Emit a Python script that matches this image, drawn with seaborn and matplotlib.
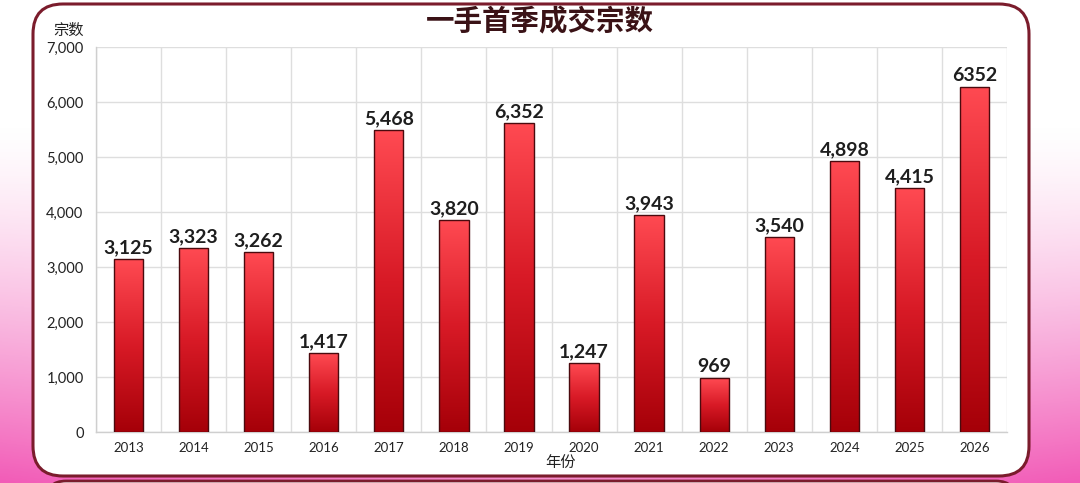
import numpy as np
import pandas as pd
import seaborn as sns
import matplotlib.pyplot as plt
from matplotlib.colors import LinearSegmentedColormap
from matplotlib.patches import FancyBboxPatch
from matplotlib.ticker import FuncFormatter

# data
years = ['2013', '2014', '2015', '2016', '2017', '2018', '2019',
         '2020', '2021', '2022', '2023', '2024', '2025', '2026']
bar_heights = [3140, 3340, 3270, 1430, 5490, 3860, 5610,
               1250, 3940, 980, 3545, 4920, 4430, 6280]
value_labels = ['3,125', '3,323', '3,262', '1,417', '5,468', '3,820', '6,352',
                '1,247', '3,943', '969', '3,540', '4,898', '4,415', '6352']
title = '一手首季成交宗数'
y_name = '宗数'
x_name = '年份'

sns.set_style('white')
plt.rcParams['font.family'] = ['Lato', 'Noto Sans CJK SC', 'DejaVu Sans']
cjk = ['Noto Sans CJK SC', 'DejaVu Sans']

W, H = 1080, 483
fig = plt.figure(figsize=(W / 100, H / 100), dpi=100)

# background: pink glow at the lower edges, white rounded frame
bg = fig.add_axes([0, 0, 1, 1])
bg.set_xlim(0, W)
bg.set_ylim(H, 0)
bg.axis('off')
yy = np.linspace(0, 1, 200)[:, None]
xx = np.linspace(0, 1, 400)[None, :]
alpha = np.clip((yy - 0.25) / 0.75, 0, 1) ** 1.4 * np.ones_like(xx)
alpha = alpha * (0.7 + 0.3 * np.abs(xx - 0.5) * 2)
pink = np.zeros((200, 400, 4))
pink[..., 0] = 0.95
pink[..., 1] = 0.36
pink[..., 2] = 0.72
pink[..., 3] = alpha
bg.imshow(pink, extent=[0, W, H, 0], aspect='auto', zorder=0)
bg.add_patch(FancyBboxPatch((33, 4), 996, 472,
                            boxstyle='round,pad=0,rounding_size=30',
                            fc='white', ec='#7b1c2c', lw=2.2, zorder=1))
bg.add_patch(FancyBboxPatch((46, 481), 970, 60,
                            boxstyle='round,pad=0,rounding_size=20',
                            fc='white', ec='#7b1c2c', lw=2.0, zorder=1))

bg.text(540, 22, title, family=cjk, fontsize=20.5, fontweight='bold',
        color='#3a1216', ha='center', va='center', zorder=3)
bg.text(69, 30, y_name, family=cjk, fontsize=11, color='#222222',
        ha='center', va='center', zorder=3)
bg.text(560, 462, x_name, family=cjk, fontsize=11, color='#222222',
        ha='center', va='center', zorder=3)

# main chart
ax = fig.add_axes([96 / W, 51 / H, (1007 - 96) / W, (432 - 47) / H])
ax.set_facecolor('none')
df = pd.DataFrame({'year': years, 'count': bar_heights})
sns.barplot(data=df, x='year', y='count', ax=ax, width=0.45,
            color='#e02030', edgecolor='#4a0a0e', linewidth=1.0, zorder=3)

cmap = LinearSegmentedColormap.from_list('bar', ['#a50008', '#d81a26', '#ff4a52'])
grad = np.linspace(0, 1, 256)[:, None]
for p in ax.patches:
    x0, w, h = p.get_x(), p.get_width(), p.get_height()
    im = ax.imshow(grad, extent=[x0, x0 + w, 0, h], origin='lower',
                   aspect='auto', cmap=cmap, zorder=2.9)
    im.set_clip_path(p)
    p.set_facecolor('none')

ax.bar_label(ax.containers[0], labels=value_labels, padding=2,
             fontsize=14, fontweight='bold', color='#1e1e1e')

ax.set_xlim(-0.5, len(years) - 0.5)
ax.set_ylim(0, 7000)
ax.set_yticks(np.arange(0, 7001, 1000))
ax.yaxis.set_major_formatter(FuncFormatter(lambda v, _: f'{int(v):,}'))
ax.set_xticks(np.arange(-0.5, len(years), 1.0), minor=True)
ax.grid(axis='y', color='#dedede', lw=1.0, zorder=0)
ax.grid(axis='x', which='minor', color='#dedede', lw=1.0, zorder=0)
ax.tick_params(axis='x', which='minor', length=5, color='#d0d0d0')
ax.tick_params(axis='x', which='major', length=0, labelsize=9.5,
               labelcolor='#222222', pad=7)
ax.tick_params(axis='y', length=0, labelsize=10.5, labelcolor='#222222', pad=9)
ax.set_xlabel('')
ax.set_ylabel('')
for side in ['top', 'right']:
    ax.spines[side].set_visible(False)
for side in ['left', 'bottom']:
    ax.spines[side].set_color('#cfcfcf')
    ax.spines[side].set_linewidth(1.0)

fig.savefig('out.png', dpi=100)
